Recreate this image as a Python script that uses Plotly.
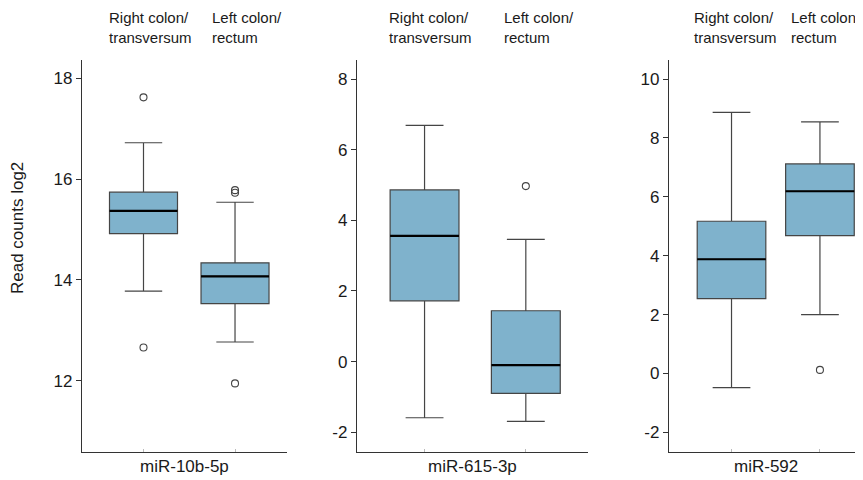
import plotly.graph_objects as go

# The page body has an 8px margin, so the figure is 8px smaller and all
# pixel positions below (measured in the reference) are shifted by OFF.
OFF = 8
W, H = 863 - OFF, 480 - OFF

# ---- data ----
groups = ["Right colon/<br>transversum", "Left colon/<br>rectum"]
mirnas = ["miR-10b-5p", "miR-615-3p", "miR-592"]

q1 = [[14.92, 13.53], [1.72, -0.90], [2.54, 4.68]]
median = [[15.37, 14.07], [3.56, -0.10], [3.88, 6.19]]
q3 = [[15.74, 14.34], [4.86, 1.44], [5.17, 7.12]]
lowerfence = [[13.78, 12.77], [-1.59, -1.69], [-0.48, 2.00]]
upperfence = [[16.72, 15.54], [6.69, 3.46], [8.87, 8.55]]
outliers = [
    [[17.62, 12.66], [15.78, 15.73, 11.95]],
    [[], [4.97]],
    [[], [0.12]],
]
ytick_vals = [[12, 14, 16, 18], [-2, 0, 2, 4, 6, 8], [-2, 0, 2, 4, 6, 8, 10]]
ytick_text = [["12", "14", "16", "18"],
              ["-2", "0", "2", "4", "6", "8"],
              ["-2", "0", "2", "4", "6", "8", "10"]]
y_ranges = [[10.59, 18.36], [-2.56, 8.54], [-2.67, 10.65]]

# ---- layout geometry (reference pixels) ----
x_dom_px = [(82, 287), (357, 588), (669, 863)]
y_dom_px = (60, 452)  # top, bottom
x_ranges = [[-0.672, 1.568], [-0.667, 1.614], [-0.707, 1.487]]
box_w = [0.743, 0.68, 0.776]
label_left_px = [[107, 210], [387, 502], [692, 789]]

FILL = "#7fb2cc"
LINE = "#454545"
AXIS = "#333333"
TXT = "#1a1a1a"
FONT = "Liberation Sans, Arial, sans-serif"


def px(x):
    return (x - OFF) / W


def py(y):
    return 1 - (y - OFF) / H


fig = go.Figure()
annotations = []
layout = {}

for p in range(3):
    sfx = "" if p == 0 else str(p + 1)
    xa, ya = "x" + sfx, "y" + sfx
    for g in range(2):
        fig.add_trace(go.Box(
            x=[g], q1=[q1[p][g]], median=[median[p][g]], q3=[q3[p][g]],
            lowerfence=[lowerfence[p][g]], upperfence=[upperfence[p][g]],
            width=box_w[p], whiskerwidth=0.55,
            fillcolor=FILL, line=dict(color=LINE, width=1.2),
            boxpoints=False, hoverinfo="skip",
            xaxis=xa, yaxis=ya, showlegend=False,
        ))
        # emphasised median line
        fig.add_trace(go.Scatter(
            x=[g - box_w[p] / 2, g + box_w[p] / 2],
            y=[median[p][g], median[p][g]],
            mode="lines", line=dict(color="#000000", width=2.2),
            hoverinfo="skip", xaxis=xa, yaxis=ya, showlegend=False,
        ))
        if outliers[p][g]:
            fig.add_trace(go.Scatter(
                x=[g] * len(outliers[p][g]), y=outliers[p][g],
                mode="markers",
                marker=dict(symbol="circle-open", size=7,
                            color="#444444", line=dict(width=1.1)),
                hoverinfo="skip", xaxis=xa, yaxis=ya, showlegend=False,
            ))
        annotations.append(dict(
            xref="paper", yref="paper",
            x=px(label_left_px[p][g]), y=py(7),
            xanchor="left", yanchor="top", align="left",
            text=groups[g], showarrow=False,
            font=dict(family=FONT, size=15, color=TXT),
        ))
    annotations.append(dict(
        xref="paper", yref="paper",
        x=px((x_dom_px[p][0] + x_dom_px[p][1]) / 2), y=py(466),
        xanchor="center", yanchor="middle",
        text=mirnas[p], showarrow=False,
        font=dict(family=FONT, size=17, color=TXT),
    ))
    layout["xaxis" + sfx] = dict(
        domain=[px(x_dom_px[p][0]), min(1.0, px(x_dom_px[p][1]))],
        range=x_ranges[p], anchor=ya,
        showline=True, linecolor=AXIS, linewidth=1.3,
        tickvals=[0, 1], ticktext=["", ""], ticks="inside", ticklen=3,
        tickcolor="#bbbbbb", showgrid=False, zeroline=False, fixedrange=True,
    )
    layout["yaxis" + sfx] = dict(
        domain=[py(y_dom_px[1]), py(y_dom_px[0])],
        range=y_ranges[p], anchor=xa,
        showline=True, linecolor=AXIS, linewidth=1.3,
        tickvals=ytick_vals[p], ticktext=ytick_text[p],
        ticks="outside", ticklen=5, tickcolor=AXIS, tickwidth=1.2,
        tickfont=dict(family=FONT, size=17, color=TXT),
        showgrid=False, zeroline=False, fixedrange=True,
    )

annotations.append(dict(
    xref="paper", yref="paper", x=px(17), y=py(228),
    xanchor="center", yanchor="middle", textangle=-90,
    text="Read counts log2", showarrow=False,
    font=dict(family=FONT, size=17, color=TXT),
))

fig.update_layout(
    width=W, height=H,
    margin=dict(l=0, r=0, t=0, b=0),
    paper_bgcolor="white", plot_bgcolor="white",
    annotations=annotations,
    boxmode="overlay",
    **layout,
)

fig.write_html("out.html")
